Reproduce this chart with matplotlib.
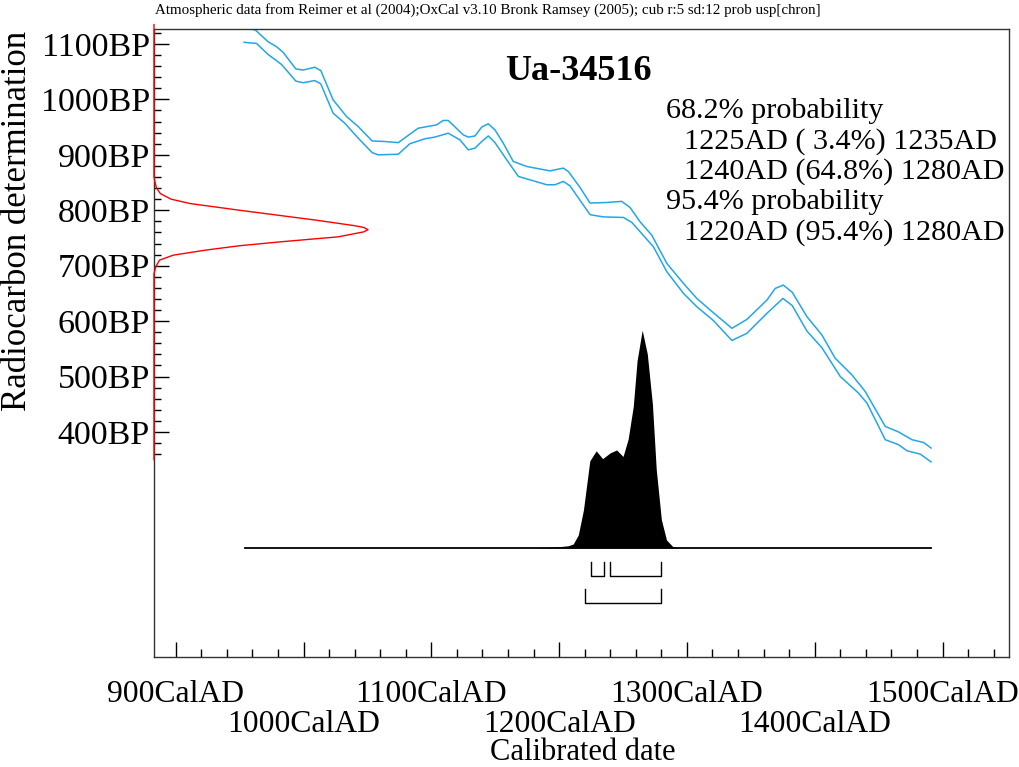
import numpy as np
import matplotlib
matplotlib.use("Agg")
import matplotlib.pyplot as plt
from matplotlib.transforms import blended_transform_factory

plt.rcParams["font.family"] = ["Liberation Serif", "DejaVu Serif"]

SAMPLE = "Ua-34516"
HEADER = ("Atmospheric data from Reimer et al (2004);OxCal v3.10 Bronk Ramsey (2005); "
          "cub r:5 sd:12 prob usp[chron]")

# Calibration curve, upper envelope (cal AD, BP)
curve_hi_year = [953.5, 962.4, 972.3, 978.9, 984.0, 994.0, 999.7, 1008.8, 1013.5, 1023.2,
                 1033.7, 1042.8, 1053.7, 1063.7, 1074.1, 1089.7, 1104.1, 1109.3, 1113.2,
                 1125.0, 1128.9, 1134.1, 1139.4, 1144.6, 1149.8, 1156.3, 1164.1, 1174.6,
                 1192.9, 1196.8, 1203.3, 1207.2, 1216.4, 1224.2, 1237.3, 1249.0, 1255.5,
                 1263.4, 1272.5, 1284.3, 1297.3, 1307.7, 1318.2, 1335.2, 1346.9, 1362.6,
                 1369.1, 1375.4, 1382.4, 1393.9, 1405.6, 1416.0, 1429.1, 1439.5, 1455.2,
                 1465.6, 1476.1, 1485.2, 1491.0]
curve_hi_bp = [1130, 1125, 1104, 1095, 1085, 1055, 1053, 1058, 1052, 999,
               969, 951, 925, 924, 922, 948, 954, 962, 962,
               936, 932, 934, 950, 956, 945, 921, 888, 879,
               871, 873, 876, 870, 841, 813, 814, 816, 805,
               779, 755, 704, 668, 641, 620, 587, 603, 638,
               659, 665, 652, 608, 575, 533, 503, 473, 410,
               400, 386, 381, 371]

# Calibration curve, lower envelope (cal AD, BP)
curve_lo_year = [953.5, 963.2, 972.3, 982.8, 994.0, 999.7, 1008.8, 1013.5, 1023.2, 1032.3,
                 1042.8, 1053.7, 1058.4, 1074.1, 1083.2, 1095.0, 1102.8, 1113.2, 1122.4,
                 1128.9, 1134.1, 1139.4, 1144.6, 1149.8, 1159.0, 1168.1, 1190.3, 1196.8,
                 1203.3, 1208.5, 1224.2, 1234.6, 1250.3, 1256.9, 1273.8, 1284.3, 1297.3,
                 1307.7, 1320.7, 1335.2, 1346.9, 1362.6, 1375.1, 1382.4, 1393.9, 1405.6,
                 1420.0, 1434.3, 1440.9, 1455.2, 1465.6, 1472.2, 1482.6, 1491.0]
curve_lo_bp = [1103, 1101, 1081, 1063, 1033, 1030, 1034, 1028, 975, 957,
               930, 904, 900, 901, 920, 929, 932, 939, 927,
               909, 912, 924, 934, 922, 891, 861, 846, 846,
               852, 844, 792, 788, 787, 778, 734, 689, 650,
               626, 601, 565, 578, 614, 641, 628, 582, 552,
               500, 470, 452, 386, 377, 366, 360, 346]

# Radiocarbon measurement probability (BP, relative density)
c14_bp = [350, 685, 698, 710, 719, 728, 736, 743, 752, 758, 761, 765, 769, 772, 782, 790,
          800, 812, 820, 830, 840, 850, 860, 1135]
c14_prob = [0, 0, 0.008, 0.026, 0.09, 0.24, 0.40, 0.59, 0.86, 0.94, 0.98, 1.0, 0.98, 0.94,
            0.76, 0.60, 0.40, 0.17, 0.08, 0.03, 0.012, 0.005, 0, 0]

# Calibrated date probability (cal AD, relative density)
cal_year = [954, 1180, 1190, 1200, 1207, 1211, 1215, 1219, 1224, 1229, 1234, 1240, 1245,
            1250, 1254, 1258, 1261, 1265, 1269, 1273, 1276, 1280, 1284, 1289, 1295, 1491]
cal_prob = [0, 0, 0.003, 0.006, 0.01, 0.018, 0.06, 0.174, 0.40, 0.446, 0.41, 0.437, 0.45,
            0.42, 0.50, 0.65, 0.86, 1.0, 0.89, 0.66, 0.36, 0.13, 0.037, 0.006, 0, 0]

ranges_68 = [(1225, 1235), (1240, 1280)]
ranges_95 = [(1220, 1280)]
range_lines = [
    ("68.2% probability", 0),
    ("1225AD ( 3.4%) 1235AD", 1),
    ("1240AD (64.8%) 1280AD", 1),
    ("95.4% probability", 0),
    ("1220AD (95.4%) 1280AD", 1),
]

bp_ticks = [400, 500, 600, 700, 800, 900, 1000, 1100]
cal_ticks = [900, 1000, 1100, 1200, 1300, 1400, 1500]

# layout
W, H = 1019, 767
CURVE_COL = "#22A7E6"
DIST_BASE, DIST_HEIGHT = 190.7, 393.0
C14_WIDTH = 0.2503

fig = plt.figure(figsize=(W / 100, H / 100), dpi=100)
ax = fig.add_axes([154 / W, 1 - 657 / H, 855 / W, 628 / H])
ax.set_xlim(883, 1552)
ax.set_ylim(-6, 1127)
for side in ["top", "right", "bottom", "left"]:
    ax.spines[side].set_color("#333333")
    ax.spines[side].set_linewidth(1.0)

# calibration curve envelope
ax.plot(curve_hi_year, curve_hi_bp, color=CURVE_COL, lw=1.1)
ax.plot(curve_lo_year, curve_lo_bp, color=CURVE_COL, lw=1.1)

# measured date along the y axis
trans = blended_transform_factory(ax.transAxes, ax.transData)
ax.plot(np.array(c14_prob) * C14_WIDTH, c14_bp, color="red", lw=1.0,
        transform=trans, clip_on=False, zorder=5)

# calibrated distribution
dist_y = DIST_BASE + np.array(cal_prob) * DIST_HEIGHT
ax.fill_between(cal_year, DIST_BASE, dist_y, color="black", lw=0)
ax.plot([cal_year[0], cal_year[-1]], [DIST_BASE, DIST_BASE], color="black", lw=1.3)

# range brackets
def bracket(lo, hi, top, bottom):
    ax.plot([lo, lo, hi, hi], [top, bottom, bottom, top], color="black", lw=1.0)

for lo, hi in ranges_68:
    bracket(lo, hi, 165, 141)
for lo, hi in ranges_95:
    bracket(lo, hi, 116, 92)

# axes ticks
ax.set_yticks(bp_ticks)
ax.set_yticklabels([f"{v}BP" for v in bp_ticks], fontsize=24.5)
ax.set_yticks(np.arange(360, 1121, 20), minor=True)
ax.tick_params(axis="y", which="major", direction="in", length=10.5, width=1, pad=3)
ax.tick_params(axis="y", which="minor", direction="in", length=5.3, width=1)

# calendar labels alternate between two rows
ax.set_xticks(cal_ticks)
ax.set_xticklabels([f"{v}CalAD" if i % 2 == 0 else "" for i, v in enumerate(cal_ticks)],
                   fontsize=22.8)
xtrans = blended_transform_factory(ax.transData, ax.transAxes)
for i, v in enumerate(cal_ticks):
    if i % 2 == 1:
        ax.text(v, -0.108, f"{v}CalAD", fontsize=22.8, ha="center", va="center",
                transform=xtrans)
ax.set_xticks(np.arange(900, 1541, 20), minor=True)
ax.tick_params(axis="x", which="major", direction="in", length=11, width=1, pad=16.5)
ax.tick_params(axis="x", which="minor", direction="in", length=6, width=1)

# labels and annotation
fig.text(155 / W, 1 - 10 / H, HEADER, fontsize=10.8, va="center", ha="left")
fig.text(578 / W, 1 - 72 / H, SAMPLE, fontsize=26, fontweight="bold",
         ha="center", va="center")
fig.text(18 / W, 1 - 221 / H, "Radiocarbon determination", fontsize=25,
         rotation=90, ha="center", va="center")
fig.text(583 / W, 1 - 752 / H, "Calibrated date", fontsize=22,
         ha="center", va="center")

for i, (line, indent) in enumerate(range_lines):
    x = 666 + 18 * indent
    y = 111 + 30.3 * i
    fig.text(x / W, 1 - y / H, line, fontsize=21.7, ha="left", va="center")

fig.savefig("out.png", dpi=100)
